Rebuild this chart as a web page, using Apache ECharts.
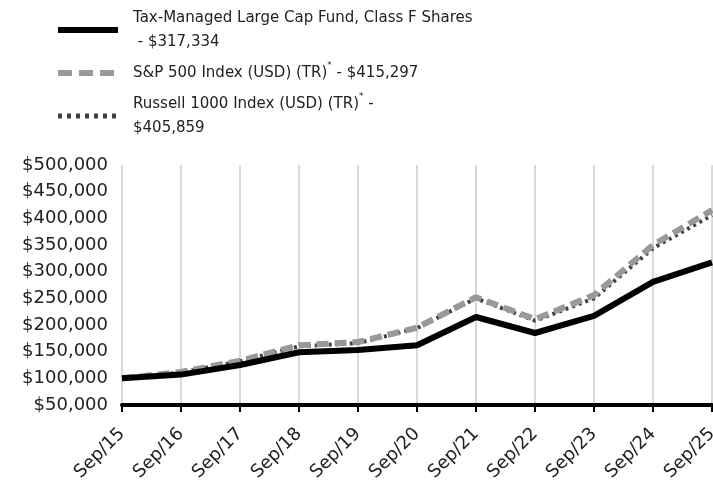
<!DOCTYPE html>
<html>
<head>
<meta charset="utf-8">
<script src="https://cdn.jsdelivr.net/npm/echarts@6/dist/echarts.min.js"></script>
<style>
  html, body { margin: 0; padding: 0; background: #fff; }
  #chart { width: 713px; height: 487px; }
</style>
</head>
<body>
<div id="chart"></div>
<script>
var categories = ['Sep/15', 'Sep/16', 'Sep/17', 'Sep/18', 'Sep/19', 'Sep/20', 'Sep/21', 'Sep/22', 'Sep/23', 'Sep/24', 'Sep/25'];
var fundValues = [100000, 107000, 125000, 149000, 153000, 162000, 215000, 185000, 217000, 281000, 317334];
var spValues = [100000, 112000, 133000, 162000, 168000, 195000, 252000, 211000, 256000, 350000, 415297];
var russellValues = [100000, 111000, 132000, 160000, 166000, 194000, 250000, 208000, 250000, 344000, 405859];
var seriesNames = ['Tax-Managed Large Cap Fund, Class F Shares\n - $317,334', 'S&P 500 Index (USD) (TR)* - $415,297', 'Russell 1000 Index (USD) (TR)* -\n$405,859'];

var font = 'DejaVu Sans';
var chart = echarts.init(document.getElementById('chart'));

function fmtMoney(v) {
  return '$' + String(v).replace(/\B(?=(\d{3})+(?!\d))/g, ',');
}

// legend entries, same look as the lines
var legendData = [
  { name: seriesNames[0], itemStyle: { opacity: 0 }, lineStyle: { color: '#000', width: 6, type: 'solid' } },
  { name: seriesNames[1], itemStyle: { opacity: 0 }, lineStyle: { color: '#999', width: 6, type: [14, 7] } },
  { name: seriesNames[2], itemStyle: { opacity: 0 }, lineStyle: { color: '#404040', width: 5, type: [4, 5] } }
];

var option = {
  animation: false,
  textStyle: { fontFamily: font },
  legend: {
    orient: 'vertical',
    left: 55,
    top: 6,
    padding: 0,
    itemWidth: 60,
    itemHeight: 14,
    itemGap: 7,
    data: legendData,
    textStyle: {
      fontSize: 15, color: '#222', fontFamily: font, lineHeight: 24, padding: [0, 0, 0, 10],
      rich: { sup: { fontSize: 9, verticalAlign: 'top', lineHeight: 14, color: '#222' } }
    },
    formatter: function (name) {
      return name.replace('*', '{sup|*}');
    },
    selectedMode: false
  },
  grid: { left: 122, right: 1, top: 165, bottom: 82, outerBoundsMode: 'none' },
  xAxis: {
    type: 'category',
    boundaryGap: false,
    data: categories,
    axisLine: { lineStyle: { color: '#000', width: 4 } },
    axisTick: { show: true, length: 7, lineStyle: { color: '#000', width: 2 } },
    axisLabel: { rotate: 45, fontSize: 18, color: '#222', margin: 26, fontFamily: font },
    splitLine: { show: true, lineStyle: { color: '#d9d9d9', width: 2 } }
  },
  yAxis: {
    type: 'value',
    min: 50000,
    max: 500000,
    interval: 50000,
    axisLine: { show: false },
    axisTick: { show: false },
    splitLine: { show: false },
    axisLabel: { fontSize: 18, color: '#222', margin: 14, fontFamily: font, formatter: fmtMoney }
  },
  series: [
    {
      name: seriesNames[2],
      type: 'line',
      data: russellValues,
      symbol: 'none',
      z: 2,
      lineStyle: { color: '#404040', width: 4, type: [3, 4] }
    },
    {
      name: seriesNames[1],
      type: 'line',
      data: spValues,
      symbol: 'none',
      z: 3,
      lineStyle: { color: '#999999', width: 6, type: [12, 6] }
    },
    {
      name: seriesNames[0],
      type: 'line',
      data: fundValues,
      symbol: 'none',
      z: 4,
      lineStyle: { color: '#000000', width: 6 }
    }
  ]
};
chart.setOption(option);
</script>
</body>
</html>
